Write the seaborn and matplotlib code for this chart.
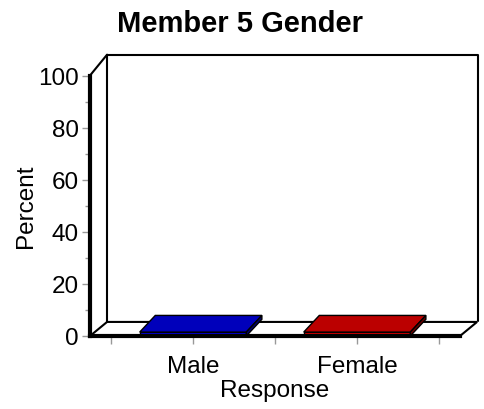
import matplotlib

matplotlib.use("Agg")

import matplotlib.pyplot as plt
import pandas as pd
import seaborn as sns
from matplotlib.patches import Polygon

# chart data
categories = ["Male", "Female"]
percent = [0, 0]
top_colors = ["#0000BB", "#BB0000"]
front_colors = ["#0000FF", "#FF0000"]
side_colors = ["#000070", "#700000"]

sns.set_style("white")
plt.rcParams["font.family"] = ["Liberation Sans", "DejaVu Sans"]
plt.rcParams["text.color"] = "black"
plt.rcParams["axes.labelcolor"] = "black"
plt.rcParams["xtick.labelcolor"] = "black"
plt.rcParams["ytick.labelcolor"] = "black"

W, H = 485, 410
fig = plt.figure(figsize=(W / 100, H / 100), dpi=100)
ax = fig.add_axes([90 / W, (H - 337) / H, 370 / W, 260.5 / H])

df = pd.DataFrame({"Response": categories, "Percent": percent})
sns.barplot(data=df, x="Response", y="Percent", hue="Response",
            palette=front_colors, width=0.65, legend=False, ax=ax)

ax.set_xlim(-0.628, 1.628)
ax.set_ylim(0, 100)

# pseudo-3D box: floor and back wall
fdx, fdy = 0.104, 5.4
x0, x1 = -0.628, 1.628
floor = Polygon([(x0, 0), (x1, 0), (x1 + fdx, fdy), (x0 + fdx, fdy)],
                closed=True, facecolor="white", edgecolor="black", lw=1.5,
                clip_on=False, zorder=1)
ax.add_patch(floor)
wall_top = 108
bx0, bx1 = x0 + fdx, x1 + 0.11
ax.plot([bx0, bx0, bx1, bx1], [fdy, wall_top, wall_top, fdy + 0.5],
        color="black", lw=1.5, clip_on=False, zorder=1)
ax.plot([x0, bx0], [100, wall_top], color="black", lw=1.5, clip_on=False, zorder=1)

# flat slabs for each bar
bdx, bdy, thick = 0.095, 6.4, 1.5
for bar, val, tc, fc, sc in zip(ax.patches, percent, top_colors, front_colors, side_colors):
    bl = bar.get_x()
    br = bl + bar.get_width()
    top = val + thick
    bar.set_visible(False)
    ax.add_patch(Polygon([(bl, 0), (br, 0), (br, top), (bl, top)], closed=True,
                         facecolor=fc, edgecolor="black", lw=1.0, zorder=3, clip_on=False))
    ax.add_patch(Polygon([(bl, top), (br, top), (br + bdx, top + bdy), (bl + bdx, top + bdy)],
                         closed=True, facecolor=tc, edgecolor="black", lw=1.0, zorder=3,
                         clip_on=False))
    ax.add_patch(Polygon([(br, 0), (br + bdx, bdy), (br + bdx, top + bdy), (br, top)],
                         closed=True, facecolor=sc, edgecolor="black", lw=1.0,
                         zorder=3, clip_on=False))

# axes styling
for side in ["top", "right"]:
    ax.spines[side].set_visible(False)
for side in ["left", "bottom"]:
    ax.spines[side].set_linewidth(3)
    ax.spines[side].set_color("black")
    ax.spines[side].set_zorder(4)
ax.set_facecolor("none")

ax.set_yticks(range(0, 101, 20))
ax.set_yticks(range(10, 100, 20), minor=True)
ax.set_xticks([-0.5, 0, 0.5, 1, 1.5])
ax.set_xticklabels(["", "Male", "", "Female", ""])
ax.tick_params(axis="both", which="major", direction="out", length=6, width=1,
               color="#999999", labelsize=17.5, left=True, bottom=True, pad=2)
ax.tick_params(axis="y", which="minor", direction="out", length=3.5, width=1,
               color="#999999", left=True)
ax.tick_params(axis="x", pad=8)

ax.set_xlabel("Response", fontsize=17.5, labelpad=1)
ax.set_ylabel("Percent", fontsize=17.5, labelpad=1)
fig.text(240 / W, 1 - 24 / H, "Member 5 Gender", fontsize=21, fontweight="bold",
         ha="center", va="center")

fig.savefig("out.png", dpi=100)
